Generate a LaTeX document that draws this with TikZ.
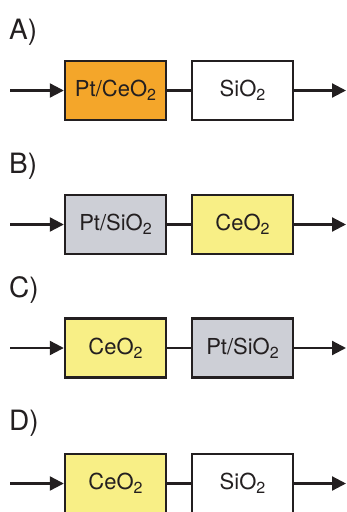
\documentclass[tikz,border=0pt]{standalone}
\usepackage{fontspec}
\setmainfont{TeX Gyre Heros}
\usetikzlibrary{arrows.meta}
\definecolor{orng}{HTML}{F4A62A}
\definecolor{gry}{HTML}{CDCFD6}
\definecolor{ylw}{HTML}{F8EF86}
\definecolor{ink}{HTML}{231F20}
\newcommand{\sub}[1]{\raisebox{-0.32ex}{\fontsize{16}{16}\selectfont #1}}
\begin{document}
\begin{tikzpicture}[x=1pt,y=-1pt,
  box/.style={draw=ink, line width=2.4pt, minimum width=101pt, minimum height=59pt, inner sep=0pt,
    font=\fontsize{22}{22}\selectfont, text=ink},
  lab/.style={font=\fontsize{28}{28}\selectfont, text=ink, anchor=west, inner sep=0pt},
  flow/.style={draw=ink, line width=2.2pt, -{Triangle[length=14pt,width=14pt]}},
  link/.style={draw=ink, line width=2.2pt}]
\useasboundingbox (0,0) rectangle (346,512);
% A
\node[lab] (la) at (9,32) {A)};
\node[box, fill=orng] (a1) at (115.5,90.5) {Pt/CeO\sub{2}};
\node[box, fill=white] (a2) at (242.5,90.5) {SiO\sub{2}};
\coordinate (ain) at (10,90.5);
\coordinate (aout) at (346,90.5);
\draw[flow] (ain) -- (a1.west);
\draw[link] (a1.east) -- (a2.west);
\draw[flow] (a2.east) -- (aout);
% B
\node[lab] (lb) at (9,166) {B)};
\node[box, fill=gry] (b1) at (115.5,224.5) {Pt/SiO\sub{2}};
\node[box, fill=ylw] (b2) at (242.5,224.5) {CeO\sub{2}};
\coordinate (bin) at (10,224.5);
\coordinate (bout) at (346,224.5);
\draw[flow] (bin) -- (b1.west);
\draw[link] (b1.east) -- (b2.west);
\draw[flow] (b2.east) -- (bout);
% C
\node[lab] (lc) at (9,290) {C)};
\node[box, fill=ylw] (c1) at (115.5,348) {CeO\sub{2}};
\node[box, fill=gry] (c2) at (242.5,348) {Pt/SiO\sub{2}};
\coordinate (cin) at (10,348);
\coordinate (cout) at (346,348);
\draw[flow] (cin) -- (c1.west);
\draw[link] (c1.east) -- (c2.west);
\draw[flow] (c2.east) -- (cout);
% D
\node[lab] (ld) at (9,423) {D)};
\node[box, fill=ylw] (d1) at (115.5,483.5) {CeO\sub{2}};
\node[box, fill=white] (d2) at (242.5,483.5) {SiO\sub{2}};
\coordinate (din) at (10,483.5);
\coordinate (dout) at (346,483.5);
\draw[flow] (din) -- (d1.west);
\draw[link] (d1.east) -- (d2.west);
\draw[flow] (d2.east) -- (dout);
\end{tikzpicture}
\end{document}
